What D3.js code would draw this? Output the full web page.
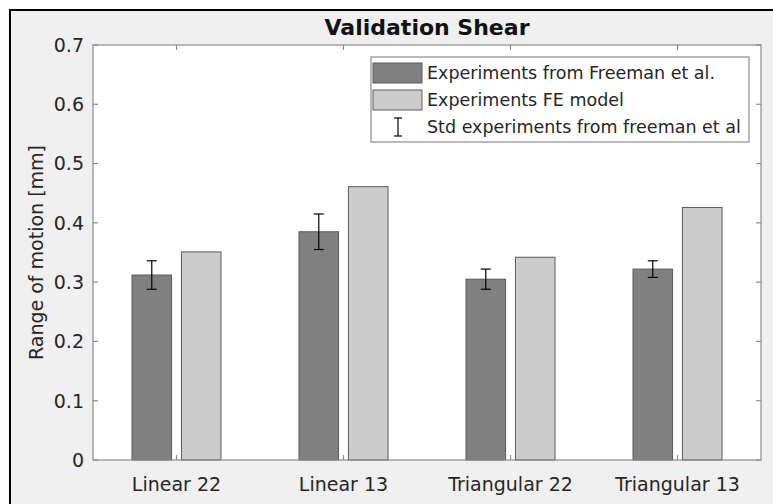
<!DOCTYPE html>
<html><head><meta charset="utf-8">
<script src="https://cdn.jsdelivr.net/npm/d3@7"></script>
<style>
html,body{margin:0;padding:0;background:#fff;}
svg{display:block;}
text{font-family:"DejaVu Sans",sans-serif;fill:#262626;}
</style></head>
<body>
<script>
const categories = ["Linear 22", "Linear 13", "Triangular 22", "Triangular 13"];
const seriesNames = ["Experiments from Freeman et al.", "Experiments FE model"];
const experiments = [0.312, 0.385, 0.305, 0.322];
const feModel = [0.351, 0.461, 0.342, 0.426];
const stdExperiments = [0.024, 0.030, 0.017, 0.014];
const yTicks = [0, 0.1, 0.2, 0.3, 0.4, 0.5, 0.6, 0.7];
const stdLabel = "Std experiments from freeman et al";
const title = "Validation Shear";
const yLabel = "Range of motion [mm]";

const W = 773, H = 504;
const M = {left: 93, right: 761, top: 45, bottom: 460};
const colors = ["#808080", "#cccccc"];

const svg = d3.select("body").append("svg").attr("width", W).attr("height", H);

// figure background + frame
svg.append("rect").attr("x", 10).attr("y", 10).attr("width", W).attr("height", H)
  .attr("fill", "#f0f0f0").attr("stroke", "#000").attr("stroke-width", 2);

const x = d3.scaleBand().domain(categories).range([M.left, M.right]).padding(0);
const xi = d3.scaleBand().domain(seriesNames).range([39, 128]).paddingInner(0.2);
const y = d3.scaleLinear().domain([0, 0.7]).range([M.bottom, M.top]);

// plot area
svg.append("rect").attr("x", M.left).attr("y", M.top)
  .attr("width", M.right - M.left).attr("height", M.bottom - M.top).attr("fill", "#fff");

const data = categories.map((c, i) => ({cat: c, vals: [experiments[i], feModel[i]], std: stdExperiments[i]}));

const g = svg.append("g");
data.forEach(d => {
  d.vals.forEach((v, k) => {
    g.append("rect")
      .attr("x", x(d.cat) + xi(seriesNames[k]))
      .attr("y", y(v))
      .attr("width", xi.bandwidth())
      .attr("height", y(0) - y(v))
      .attr("fill", colors[k])
      .attr("stroke", "#5a5a5a").attr("stroke-width", 1);
  });
});

// error bars
data.forEach(d => {
  const cx = x(d.cat) + xi(seriesNames[0]) + xi.bandwidth() / 2;
  const eg = svg.append("g").attr("stroke", "#000").attr("stroke-width", 1.2);
  eg.append("line").attr("x1", cx).attr("x2", cx).attr("y1", y(d.vals[0] - d.std)).attr("y2", y(d.vals[0] + d.std));
  [d.vals[0] - d.std, d.vals[0] + d.std].forEach(v => {
    eg.append("line").attr("x1", cx - 5).attr("x2", cx + 5).attr("y1", y(v)).attr("y2", y(v));
  });
});

// axes
const axCol = "#8c8c8c";
const tickLen = 5;
const ax = svg.append("g").attr("stroke", axCol).attr("stroke-width", 1.2).attr("fill", "none");
ax.append("rect").attr("x", M.left).attr("y", M.top)
  .attr("width", M.right - M.left).attr("height", M.bottom - M.top);
categories.forEach(c => {
  const cx = x(c) + x.bandwidth() / 2;
  ax.append("line").attr("x1", cx).attr("x2", cx).attr("y1", M.bottom).attr("y2", M.bottom - tickLen);
  ax.append("line").attr("x1", cx).attr("x2", cx).attr("y1", M.top).attr("y2", M.top + tickLen);
});
yTicks.forEach(t => {
  ax.append("line").attr("x1", M.left).attr("x2", M.left + tickLen).attr("y1", y(t)).attr("y2", y(t));
  ax.append("line").attr("x1", M.right).attr("x2", M.right - tickLen).attr("y1", y(t)).attr("y2", y(t));
});

// tick labels
svg.append("g").selectAll("text").data(yTicks).join("text")
  .attr("x", M.left - 9).attr("y", d => y(d)).attr("dy", "0.36em")
  .attr("text-anchor", "end").attr("font-size", 19)
  .text(d => d3.format("")(d));
svg.append("g").selectAll("text").data(categories).join("text")
  .attr("x", d => x(d) + x.bandwidth() / 2).attr("y", 491)
  .attr("text-anchor", "middle").attr("font-size", 19)
  .text(d => d);

// title
svg.append("text").attr("x", (M.left + M.right) / 2).attr("y", 35)
  .attr("text-anchor", "middle").attr("font-size", 22).attr("font-weight", "bold")
  .attr("fill", "#000").style("fill", "#111").text(title);

// y label
svg.append("text").attr("transform", `translate(43,${(M.top + M.bottom) / 2}) rotate(-90)`)
  .attr("text-anchor", "middle").attr("font-size", 19).text(yLabel);

// legend
const lg = svg.append("g");
lg.append("rect").attr("x", 371).attr("y", 57).attr("width", 378).attr("height", 85)
  .attr("fill", "#fff").attr("stroke", "#8c8c8c").attr("stroke-width", 1.2);
const rows = [73, 100, 127];
seriesNames.forEach((s, k) => {
  lg.append("rect").attr("x", 373).attr("y", rows[k] - 10).attr("width", 49).attr("height", 20)
    .attr("fill", colors[k]).attr("stroke", "#5a5a5a").attr("stroke-width", 1);
  lg.append("text").attr("x", 427).attr("y", rows[k]).attr("dy", "0.36em")
    .attr("font-size", 17.5).text(s);
});
const ex = 398, ey = rows[2];
const eg2 = lg.append("g").attr("stroke", "#000").attr("stroke-width", 1.2);
eg2.append("line").attr("x1", ex).attr("x2", ex).attr("y1", ey - 9).attr("y2", ey + 9);
eg2.append("line").attr("x1", ex - 4).attr("x2", ex + 4).attr("y1", ey - 9).attr("y2", ey - 9);
eg2.append("line").attr("x1", ex - 4).attr("x2", ex + 4).attr("y1", ey + 9).attr("y2", ey + 9);
lg.append("text").attr("x", 427).attr("y", ey).attr("dy", "0.36em")
  .attr("font-size", 17.5).text(stdLabel);
</script>
</body></html>
